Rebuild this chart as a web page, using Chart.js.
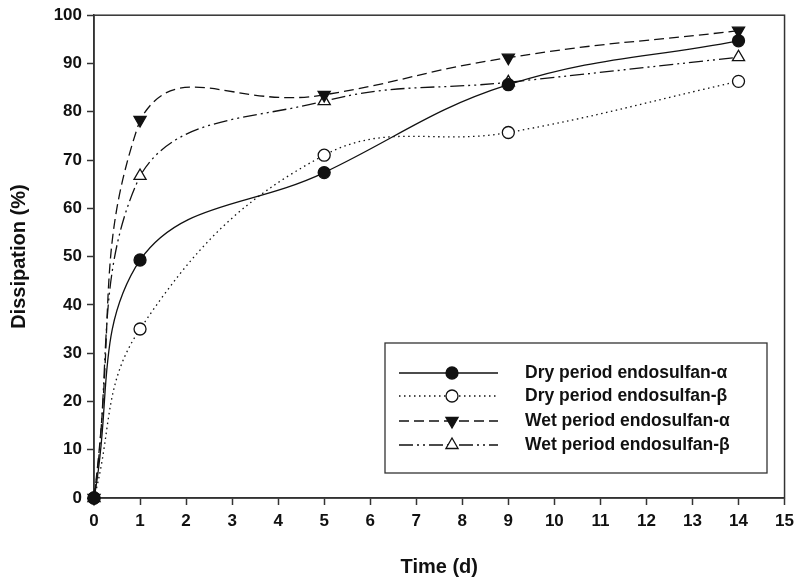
<!DOCTYPE html>
<html>
<head>
<meta charset="utf-8">
<script src="https://cdn.jsdelivr.net/npm/chart.js@4.4.1/dist/chart.umd.min.js"></script>
<style>
html,body{margin:0;padding:0;background:#fff;}
#wrap{width:800px;height:583px;position:relative;}
</style>
</head>
<body>
<div id="wrap"><canvas id="c" width="800" height="583"></canvas></div>
<script>
const days = [0, 1, 5, 9, 14];
const dryAlpha = [0, 49.3, 67.4, 85.6, 94.7];
const dryBeta  = [0, 35.0, 71.0, 75.7, 86.3];
const wetAlpha = [0, 78.3, 83.5, 91.2, 96.8];
const wetBeta  = [0, 66.7, 82.2, 86.1, 91.3];
const xTicks = [0,1,2,3,4,5,6,7,8,9,10,11,12,13,14,15];
const yTicks = [0,10,20,30,40,50,60,70,80,90,100];
const labels = ['Dry period endosulfan-\u03B1','Dry period endosulfan-\u03B2','Wet period endosulfan-\u03B1','Wet period endosulfan-\u03B2'];

const pts = arr => days.map((d,i)=>({x:d,y:arr[i]}));
const FONT = '"Liberation Sans", Arial, sans-serif';
const AX = '#333';

function ds(label, arr, dash, style, fill, rot, r, ten){
  return {label, data: pts(arr), borderColor:'#111', borderWidth:1.3, borderDash:dash,
    tension:ten, pointStyle:style, pointRotation:rot||0, pointRadius:r, pointBorderWidth:1.3,
    pointBackgroundColor:fill, pointBorderColor:'#111', fill:false, clip:false};
}

const frame = {
  id:'frame',
  beforeDatasetsDraw(chart){
    const {ctx, chartArea:a} = chart;
    ctx.save(); ctx.strokeStyle=AX; ctx.lineWidth=1.5;
    ctx.strokeRect(a.left, a.top, a.right-a.left, a.bottom-a.top);
    ctx.restore();
  },
  afterDraw(chart){
    const ctx = chart.ctx;
    const bx=385, by=343, bw=382, bh=130;
    ctx.save();
    ctx.fillStyle='#fff'; ctx.fillRect(bx,by,bw,bh);
    ctx.strokeStyle=AX; ctx.lineWidth=1.3; ctx.strokeRect(bx,by,bw,bh);
    const rows=[373,396,421,445];
    chart.data.datasets.forEach((d,i)=>{
      const y=rows[i];
      ctx.strokeStyle='#111'; ctx.lineWidth=1.3; ctx.setLineDash(d.borderDash||[]);
      ctx.beginPath(); ctx.moveTo(399,y); ctx.lineTo(498,y); ctx.stroke();
      ctx.setLineDash([]);
      ctx.fillStyle=d.pointBackgroundColor; ctx.strokeStyle='#111'; ctx.lineWidth=1.3;
      Chart.helpers.drawPoint(ctx,{pointStyle:d.pointStyle,radius:d.pointRadius,rotation:d.pointRotation,borderWidth:1.3},452,y);
      ctx.fillStyle='#111'; ctx.font='bold 17.5px '+FONT; ctx.textBaseline='middle'; ctx.textAlign='left';
      ctx.fillText(d.label,525,y);
    });
    ctx.restore();
  }
};

new Chart(document.getElementById('c'), {
  type:'line',
  data:{datasets:[
    ds(labels[0], dryAlpha, [], 'circle', '#111', 0, 6, 0.4),
    ds(labels[1], dryBeta, [1.5,3.5], 'circle', '#fff', 0, 6, 0.4),
    ds(labels[2], wetAlpha, [10,5], 'triangle', '#111', 180, 7, 0.5),
    ds(labels[3], wetBeta, [14,4,2,4,2,4], 'triangle', '#fff', 0, 7, 0.4)
  ]},
  options:{
    responsive:false, animation:false,
    layout:{padding:{top:12,right:12,left:3,bottom:0}},
    plugins:{legend:{display:false}, tooltip:{enabled:false}},
    scales:{
      x:{type:'linear', min:0, max:15,
        afterFit:s=>{s.height=85;},
        afterBuildTicks:s=>{s.ticks=xTicks.map(v=>({value:v}));},
        grid:{drawOnChartArea:false, drawTicks:true, tickLength:7, color:AX, tickWidth:1.5},
        border:{display:true, color:AX, width:1.5},
        ticks:{color:'#111', font:{family:FONT, size:17, weight:'bold'}, padding:6, maxRotation:0, autoSkip:false},
        title:{display:true, text:'Time (d)', color:'#111', font:{family:FONT, size:20, weight:'bold'}, padding:{top:14}}
      },
      y:{type:'linear', min:0, max:100,
        afterFit:s=>{s.width=91;},
        afterBuildTicks:s=>{s.ticks=yTicks.map(v=>({value:v}));},
        grid:{drawOnChartArea:false, drawTicks:true, tickLength:7, color:AX, tickWidth:1.5},
        border:{display:true, color:AX, width:1.5},
        ticks:{color:'#111', font:{family:FONT, size:17, weight:'bold'}, padding:5, autoSkip:false},
        title:{display:true, text:'Dissipation (%)', color:'#111', font:{family:FONT, size:20, weight:'bold'}, padding:{bottom:0}}
      }
    }
  },
  plugins:[frame]
});
</script>
</body>
</html>
